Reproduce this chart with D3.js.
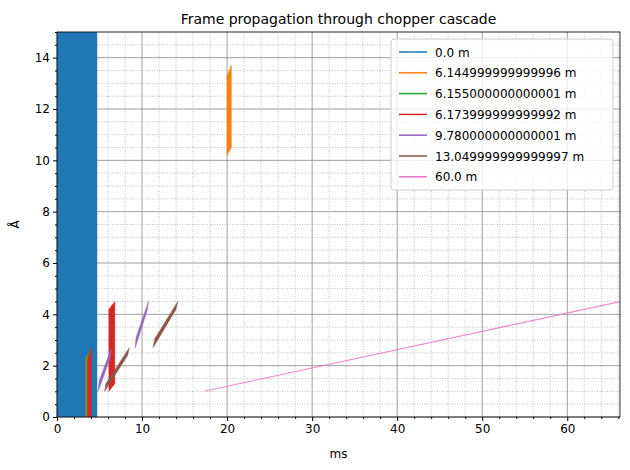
<!DOCTYPE html>
<html><head><meta charset="utf-8">
<script src="https://cdn.jsdelivr.net/npm/d3@7"></script>
<style>body{margin:0;background:#fff;font-family:"DejaVu Sans",sans-serif}</style>
</head><body><svg id="c" width="630" height="470"></svg>
<script>
const labels = ["0.0 m","6.144999999999996 m","6.155000000000001 m","6.173999999999992 m","9.780000000000001 m","13.049999999999997 m","60.0 m"];
const colors = ["#1f77b4","#ff7f0e","#2ca02c","#d62728","#9467bd","#8c564b","#e377c2"];
// polygons per distance, [ms, Å]
const frames = [
  [[[0,0],[4.7,0],[4.7,15.5],[0,15.5]]],
  [[[3.4,0],[3.6,0],[3.6,2.4],[3.4,2.3]], [[20.0,10.2],[20.5,10.5],[20.5,13.7],[20.0,13.3]]],
  [[[3.5,0],[3.9,0],[3.9,2.6],[3.5,2.3]]],
  [[[3.6,0],[4.05,0],[4.05,2.7],[3.6,2.2]], [[6.1,1.0],[6.8,1.3],[6.8,4.5],[6.1,4.2]]],
  [[[4.85,1.0],[4.95,1.4],[6.35,2.65],[6.25,2.3]], [[9.2,2.7],[9.3,3.1],[10.75,4.5],[10.6,4.15]]],
  [[[5.6,1.0],[5.75,1.3],[8.5,2.7],[8.3,2.4]], [[11.3,2.7],[11.5,3.05],[14.2,4.5],[14.0,4.2]]],
  [[[17.4,1.0],[66.5,4.5],[66.5,4.53],[17.4,1.02]]]
];
const W=630,H=470,m={l:57,r:10,t:32,b:53};
const svg=d3.select("#c");
const x=d3.scaleLinear().domain([0,66.2]).range([m.l,W-m.r]);
const y=d3.scaleLinear().domain([0,15]).range([H-m.b,m.t]);
const g=svg.append("g");
// grids
d3.range(0,67,2).forEach(v=>{ if(v%10) g.append("line").attr("x1",x(v)).attr("x2",x(v)).attr("y1",y(0)).attr("y2",y(15)).attr("stroke","#999").attr("stroke-width",0.6).attr("stroke-dasharray","1,1.5");});
d3.range(0,15.1,0.5).forEach(v=>{ if(v%2) g.append("line").attr("y1",y(v)).attr("y2",y(v)).attr("x1",m.l).attr("x2",W-m.r).attr("stroke","#999").attr("stroke-width",0.6).attr("stroke-dasharray","1,1.5");});
d3.range(0,67,10).forEach(v=>g.append("line").attr("x1",x(v)).attr("x2",x(v)).attr("y1",y(0)).attr("y2",y(15)).attr("stroke","#888").attr("stroke-width",0.8));
d3.range(0,15,2).forEach(v=>g.append("line").attr("y1",y(v)).attr("y2",y(v)).attr("x1",m.l).attr("x2",W-m.r).attr("stroke","#888").attr("stroke-width",0.8));
svg.append("clipPath").attr("id","cp").append("rect").attr("x",m.l).attr("y",m.t).attr("width",W-m.l-m.r).attr("height",H-m.t-m.b);
const pg=svg.append("g").attr("clip-path","url(#cp)");
frames.forEach((polys,i)=>polys.forEach(p=>pg.append("path").attr("d",d3.line().x(d=>x(d[0])).y(d=>y(d[1]))(p)+"Z").attr("fill",colors[i]).attr("stroke",colors[i]).attr("stroke-width",i==6?0.3:0.5)));
const xa=svg.append("g").attr("transform",`translate(0,${H-m.b})`).call(d3.axisBottom(x).tickValues(d3.range(0,67,10)).tickSizeOuter(0).tickSize(4));
const xm=svg.append("g").attr("transform",`translate(0,${H-m.b})`).call(d3.axisBottom(x).tickValues(d3.range(0,67,2).filter(v=>v%10)).tickSize(2).tickFormat(""));
const ya=svg.append("g").attr("transform",`translate(${m.l},0)`).call(d3.axisLeft(y).tickValues(d3.range(0,15,2)).tickSizeOuter(0).tickSize(4));
const ym=svg.append("g").attr("transform",`translate(${m.l},0)`).call(d3.axisLeft(y).tickValues(d3.range(0,15.1,0.5).filter(v=>v%2)).tickSize(2).tickFormat(""));
[xa,ya,xm,ym].forEach(a=>{a.selectAll("text").attr("font-size",12).attr("fill","#000").attr("font-family","DejaVu Sans");a.select(".domain").remove();});
svg.append("rect").attr("x",m.l).attr("y",m.t).attr("width",W-m.l-m.r).attr("height",H-m.t-m.b).attr("fill","none").attr("stroke","#000").attr("stroke-width",0.8);
svg.append("text").attr("x",(m.l+W-m.r)/2).attr("y",24).attr("text-anchor","middle").attr("font-size",14).text("Frame propagation through chopper cascade");
svg.append("text").attr("x",(m.l+W-m.r)/2).attr("y",H-12).attr("text-anchor","middle").attr("font-size",12).text("ms");
svg.append("text").attr("transform",`translate(19,${(m.t+H-m.b)/2}) rotate(-90)`).attr("text-anchor","middle").attr("font-size",12).text("Å");
const lg=svg.append("g").attr("transform","translate(391,39)");
lg.append("rect").attr("width",222).attr("height",151).attr("rx",3).attr("fill","#fff").attr("fill-opacity",0.8).attr("stroke","#ccc");
labels.forEach((l,i)=>{const yy=13+i*20.8;
 lg.append("line").attr("x1",8).attr("x2",36).attr("y1",yy).attr("y2",yy).attr("stroke",colors[i]).attr("stroke-width",1.5);
 lg.append("text").attr("x",44).attr("y",yy+4.5).attr("font-size",12).text(l);});
</script></body></html>
